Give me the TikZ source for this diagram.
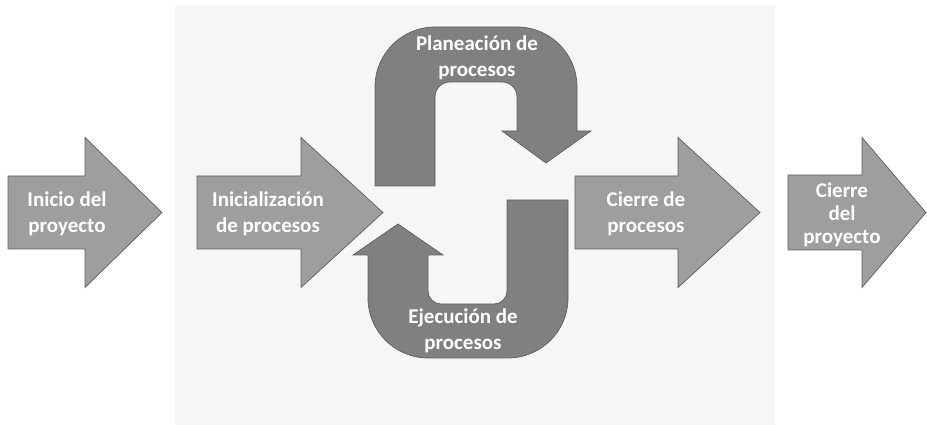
\documentclass[tikz,border=0pt]{standalone}
\usepackage{fontspec}
\setmainfont{Carlito}
\definecolor{sidegray}{RGB}{158,158,158}
\definecolor{ugray}{RGB}{128,128,128}
\definecolor{edgegray}{RGB}{95,95,95}
\definecolor{bggray}{RGB}{246,246,246}
\tikzset{
  sidearrow/.style={fill=sidegray, draw=edgegray, line width=0.7pt},
  uarrow/.style={fill=ugray, draw=edgegray, line width=0.7pt},
  lbl/.style={text=white, font=\bfseries\fontsize{21}{26}\selectfont, align=center, inner sep=0pt},
}
\begin{document}
\begin{tikzpicture}[x=1pt,y=1pt]
\useasboundingbox (0,0) rectangle (927,425);
\fill[bggray] (175,0) rectangle (775,420);

% side arrows
\draw[sidearrow] (8,176) -- (85,176) -- (85,137.5) -- (162,212.5) -- (85,287.5) -- (85,249) -- (8,249) -- cycle;
\draw[sidearrow] (197,176) -- (301,176) -- (301,137.5) -- (383,212.5) -- (301,287.5) -- (301,249) -- (197,249) -- cycle;
\draw[sidearrow] (575,176) -- (678,176) -- (678,137.5) -- (760,212.5) -- (678,287.5) -- (678,249) -- (575,249) -- cycle;
\draw[sidearrow] (788,175) -- (862,175) -- (862,137.5) -- (926,212.5) -- (862,287.5) -- (862,250) -- (788,250) -- cycle;

% top U arrow (Planeacion)
\draw[uarrow] (375,239) -- (375,338) arc[start angle=180,end angle=90,radius=60]
  -- (517,398) arc[start angle=90,end angle=0,radius=60]
  -- (577,294) -- (591,294) -- (546,262) -- (502,294) -- (517,294)
  -- (517,328) arc[start angle=0,end angle=90,radius=15]
  -- (450,343) arc[start angle=90,end angle=180,radius=15]
  -- (435,239) -- cycle;

% bottom U arrow (Ejecucion)
\draw[uarrow] (507,225) -- (568,225) -- (568,127) arc[start angle=0,end angle=-90,radius=60]
  -- (428,67) arc[start angle=270,end angle=180,radius=60]
  -- (368,170) -- (353,170) -- (398,201) -- (443,170) -- (428,170)
  -- (428,134) arc[start angle=180,end angle=270,radius=13]
  -- (494,121) arc[start angle=270,end angle=360,radius=13]
  -- cycle;

% labels
\node[lbl] (inicio) at (67,211) {Inicio del\\proyecto};
\node[lbl] (inicial) at (268,211) {Inicialización\\de procesos};
\node[lbl] (planea) at (477,367) {Planeación de\\procesos};
\node[lbl] (ejecu) at (463,94.5) {Ejecución de\\procesos};
\node[lbl] (cierrep) at (646,211) {Cierre de\\procesos};
\node[lbl, font=\bfseries\fontsize{21}{23}\selectfont] (cierrepr) at (842,210) {Cierre\\del\\proyecto};
\end{tikzpicture}
\end{document}
